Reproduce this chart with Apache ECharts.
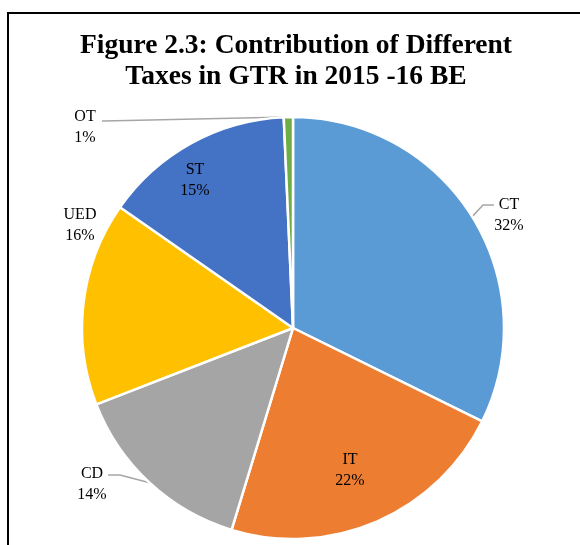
<!DOCTYPE html>
<html>
<head>
<meta charset="utf-8">
<script src="https://cdn.jsdelivr.net/npm/echarts@6/dist/echarts.min.js"></script>
<style>
  html, body { margin: 0; padding: 0; background: #fff; }
  #chart { width: 580px; height: 545px; }
</style>
</head>
<body>
<div id="chart"></div>
<script>
// shares of gross tax revenue (labels round them)
const categories = ['CT', 'IT', 'CD', 'UED', 'ST', 'OT'];
const shares = [32.3, 22.4, 14.4, 15.6, 14.6, 0.7];
const colors = ['#5B9BD5', '#ED7D31', '#A5A5A5', '#FFC000', '#4472C4', '#70AD47'];
const titleText = 'Figure 2.3: Contribution of Different\nTaxes in GTR in 2015 -16 BE';

// where each data label sits (block centre), plus the leader line bend if it has one
const labelSpots = {
  CT:  { x: 509, y: 215, bend: [[483, 205], [494, 205]] },
  IT:  { x: 350, y: 470 },
  CD:  { x: 92,  y: 484, bend: [[120, 475], [108, 475]] },
  UED: { x: 80,  y: 225 },
  ST:  { x: 195, y: 180 },
  OT:  { x: 85,  y: 127, bend: [[104, 121], [102, 121]] }
};
const noLine = ['IT', 'UED', 'ST'];

const chart = echarts.init(document.getElementById('chart'));

chart.setOption({
  animation: false,
  graphic: [
    {
      type: 'polyline',
      shape: { points: [[8, 545], [8, 13], [580, 13]] },
      style: { stroke: '#000', lineWidth: 2, fill: null }
    },
    {
      // title, centred a little right of the canvas middle like the original
      type: 'text',
      x: 296,
      y: 30,
      style: {
        text: titleText,
        fontFamily: 'Liberation Serif',
        fontWeight: 'bold',
        fontSize: 27.5,
        lineHeight: 31,
        fill: '#000',
        textAlign: 'center',
        textVerticalAlign: 'top'
      }
    }
  ],
  series: [
    {
      type: 'pie',
      center: [293, 328],
      radius: 211,
      startAngle: 90,
      clockwise: true,
      percentPrecision: 0,
      avoidLabelOverlap: false,
      emphasis: { disabled: true },
      itemStyle: { borderColor: '#fff', borderWidth: 2.5 },
      label: {
        position: 'outside',
        formatter: '{b}\n{d}%',
        fontFamily: 'Liberation Serif',
        fontSize: 16,
        lineHeight: 21,
        color: '#000',
        align: 'center'
      },
      labelLine: {
        show: true,
        lineStyle: { color: '#A6A6A6', width: 1.5 }
      },
      labelLayout: function (p) {
        const spot = labelSpots[categories[p.dataIndex]];
        const out = { x: spot.x, y: spot.y, align: 'center', verticalAlign: 'middle' };
        if (spot.bend && p.labelLinePoints) {
          out.labelLinePoints = [p.labelLinePoints[0], spot.bend[0], spot.bend[1]];
        }
        return out;
      },
      data: categories.map(function (name, i) {
        const item = { name: name, value: shares[i], itemStyle: { color: colors[i] } };
        if (noLine.indexOf(name) >= 0) item.labelLine = { show: false };
        return item;
      })
    }
  ]
});
</script>
</body>
</html>
